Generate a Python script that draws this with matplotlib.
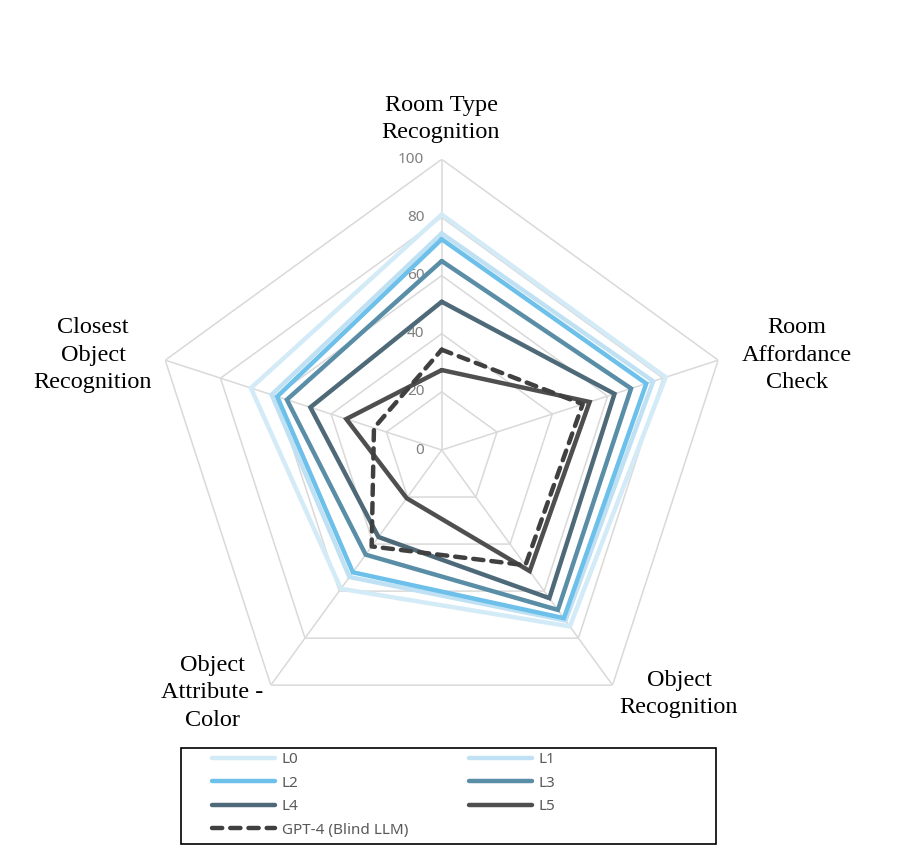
import numpy as np
import matplotlib.pyplot as plt
from matplotlib.patches import Rectangle

# axes of the radar, clockwise from the top
categories = ["Room Type\nRecognition", "Room\nAffordance\nCheck", "Object\nRecognition",
              "Object\nAttribute -\nColor", "Closest\nObject\nRecognition"]
ticks = [0, 20, 40, 60, 80, 100]

L0 = [81, 81, 75, 59, 69]
L1 = [74.5, 76.5, 72.5, 54, 61.5]
L2 = [72.5, 74, 71.5, 52, 59.5]
L3 = [65, 68.5, 68, 44.5, 56]
L4 = [51, 62.5, 63, 37, 47.5]
L5 = [27.5, 53.5, 51.5, 20.5, 34.5]
GPT4 = [34.5, 51, 49, 41, 24.5]

series = [("L0", L0, "#d3eaf7"), ("L1", L1, "#c0e1f4"), ("L2", L2, "#6cc0e9"),
          ("L3", L3, "#5a8ea7"), ("L4", L4, "#4e6a79"), ("L5", L5, "#4f4f4f")]

theta = np.linspace(0, 2 * np.pi, len(categories), endpoint=False)
theta_c = np.append(theta, theta[0])

W, H = 897, 863
fig = plt.figure(figsize=(W / 100, H / 100), dpi=100)
cx, cy, R = 441.7, 450, 290.7
ax = fig.add_axes([(cx - R) / W, (H - cy - R) / H, 2 * R / W, 2 * R / H], projection='polar')
ax.set_theta_offset(np.pi / 2)
ax.set_theta_direction(-1)
ax.set_ylim(0, 100)
ax.set_xticks([])
ax.set_yticks([])
ax.grid(False)
ax.spines['polar'].set_visible(False)
ax.patch.set_visible(False)

# pentagon grid
grid_c = "#d9d9d9"
for r in ticks[1:]:
    ax.plot(theta_c, [r] * len(theta_c), color=grid_c, lw=1.1, zorder=1)
for t in theta:
    ax.plot([t, t], [0, 100], color=grid_c, lw=1.1, zorder=1)
for v in ticks:
    ax.annotate(str(v), xy=(0, v), xytext=(-12.5, 0), textcoords='offset points',
                ha='right', va='center', color='#7f7f7f', fontsize=11, family='Noto Sans')

handles = {}
for name, vals, col in series:
    h, = ax.plot(theta_c, vals + vals[:1], color=col, lw=3.2, zorder=3,
                 solid_joinstyle='miter', solid_capstyle='round')
    handles[name] = h
h, = ax.plot(theta_c, GPT4 + GPT4[:1], color="#404040", lw=3.2, zorder=4,
             linestyle=(0, (2.3, 1.8)), dash_capstyle='round')
handles["GPT-4 (Blind LLM)"] = h

# category labels
label_pos = [(441, 119), (797, 355), (679, 694), (212, 693), (93, 355)]
for lab, (x, y) in zip(categories, label_pos):
    fig.text(x / W, 1 - y / H, lab, ha='center', va='center', fontsize=17.5,
             family='Liberation Serif', color='black', linespacing=1.4)

# legend
order = ["L0", "L2", "L4", "GPT-4 (Blind LLM)", "L1", "L3", "L5"]
fig.legend([handles[k] for k in order], order, loc='upper left',
           bbox_to_anchor=(212 / W, 1 - 752 / H), ncol=2, frameon=False,
           borderpad=0, borderaxespad=0, handlelength=4.1, handletextpad=0.46,
           columnspacing=4.0, labelspacing=0.56,
           prop={'family': 'Noto Sans', 'size': 11}, labelcolor='#595959')
fig.add_artist(Rectangle((181 / W, 1 - 844 / H), 535 / W, 96 / H, transform=fig.transFigure,
                         fill=False, edgecolor='black', lw=1.2))

fig.savefig('out.png', dpi=100)
